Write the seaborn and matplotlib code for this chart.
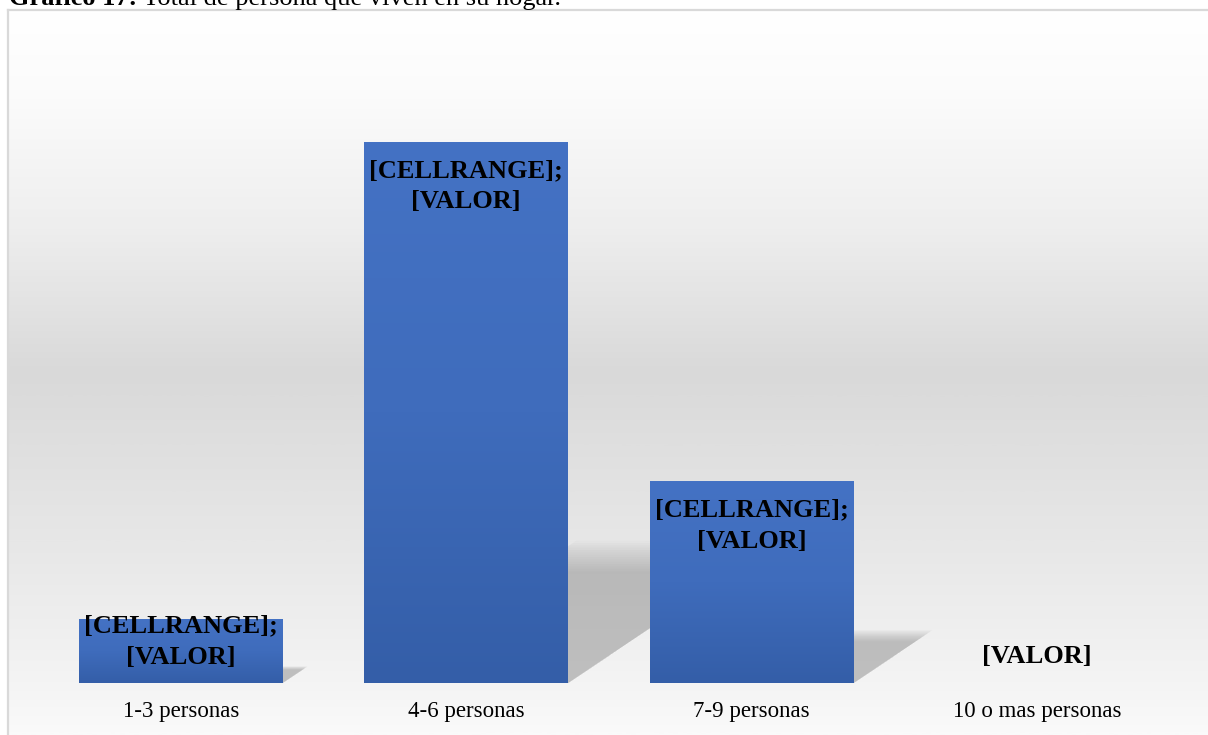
import numpy as np
import pandas as pd
import matplotlib
matplotlib.use("Agg")
import matplotlib.pyplot as plt
import seaborn as sns
from matplotlib.colors import LinearSegmentedColormap
from matplotlib.patches import Polygon

# ---- data ----
categories = ["1-3 personas", "4-6 personas", "7-9 personas", "10 o mas personas"]
values = [6, 51, 19, 0]
bar_labels = ["[CELLRANGE];\n[VALOR]", "[CELLRANGE];\n[VALOR]", "[CELLRANGE];\n[VALOR]", "[VALOR]"]
title_bold = "Gráfico 17:"
title_rest = " Total de persona que viven en su hogar."

sns.set_theme(style="white")
plt.rcParams["font.family"] = ["Liberation Serif", "DejaVu Serif"]

W, H = 1208, 735
fig = plt.figure(figsize=(W / 100, H / 100), dpi=100, facecolor="white")

# ---- chart area background (gradient) ----
bg = fig.add_axes([8 / W, 0, 1 - 8 / W, 1 - 10 / H], zorder=0)
stops = [(0.0, "#ffffff"), (0.12, "#fbfbfb"), (0.30, "#eeeeee"),
         (0.50, "#d9d9d9"), (0.75, "#e8e8e8"), (0.93, "#f4f4f4"), (1.0, "#fafafa")]
cmap_bg = LinearSegmentedColormap.from_list("bg", stops)
bg.imshow(np.linspace(0, 1, 400).reshape(-1, 1), aspect="auto", cmap=cmap_bg,
          extent=[0, 1, 0, 1], origin="upper")
bg.set_xlim(0, 1)
bg.set_ylim(0, 1)
bg.set_xticks([])
bg.set_yticks([])
for s in ["right", "bottom"]:
    bg.spines[s].set_visible(False)
for s in ["left", "top"]:
    bg.spines[s].set_color("#d9d9d9")
    bg.spines[s].set_linewidth(1.6)

# ---- main axes ----
ax = fig.add_axes([38 / W, 52 / H, (1180 - 38) / W, (683 - 30) / H], zorder=2)
ax.patch.set_alpha(0)
df = pd.DataFrame({"cat": categories, "val": values})
sns.barplot(data=df, x="cat", y="val", ax=ax, color="#4472c4", width=0.714,
            saturation=1, zorder=3, edgecolor="none", linewidth=0)
px_per_unit = 541 / 51
px_per_x = 285.5
ax.set_xlim(-0.5, 3.5)
ax.set_ylim(0, 653 / px_per_unit)
for s in ax.spines.values():
    s.set_visible(False)
ax.set_yticks([])
ax.set_xlabel("")
ax.set_ylabel("")
ax.tick_params(axis="x", length=0, pad=13, labelsize=16.5, labelcolor="black")

# bar gradients + soft cast shadows
cmap_bar = LinearSegmentedColormap.from_list("bar", ["#4472c4", "#3f6cbc", "#345ea8"])
for patch, v in zip(ax.patches, values):
    x0 = patch.get_x()
    w = patch.get_width()
    patch.set_edgecolor("none")
    patch.set_linewidth(0)
    if v > 0:
        im = ax.imshow(np.linspace(0, 1, 200).reshape(-1, 1), cmap=cmap_bar, aspect="auto",
                       extent=[x0, x0 + w, 0, v], origin="upper", zorder=3.5)
        im.set_clip_path(patch)
        hs = 0.235 * v
        sx = 0.35 * v * px_per_unit / px_per_x
        n = 14
        for k in range(n):
            f = 1.12 - 0.24 * k / (n - 1)   # from slightly larger to smaller
            poly = Polygon([(x0, 0), (x0 + w, 0),
                            (x0 + w + sx * f, hs * f),
                            (x0 + sx * f, hs * f)],
                           closed=True, facecolor="#8c8c8c", edgecolor="none",
                           alpha=0.045, zorder=2.5)
            ax.add_patch(poly)
ax.set_xlim(-0.5, 3.5)
ax.set_ylim(0, 653 / px_per_unit)

# data labels
for i, (v, lab) in enumerate(zip(values, bar_labels)):
    if "\n" in lab:
        yc = max(v - 44 / px_per_unit, 41.5 / px_per_unit)
    else:
        yc = 26 / px_per_unit
    ax.text(i, yc, lab, ha="center", va="center", fontsize=19, fontweight="bold",
            color="black", linespacing=1.45, zorder=5, multialignment="center")

# ---- title (partially cut at top, as in the reference) ----
y_base = 1 - 5 / H
t1 = fig.text(9 / W, y_base, title_bold, fontsize=19, fontweight="bold",
              va="baseline", ha="left", color="black")
fig.canvas.draw()
bb = t1.get_window_extent()
fig.text(bb.x1 / W, y_base, title_rest, fontsize=19, va="baseline", ha="left", color="black")

fig.savefig("out.png", dpi=100, facecolor="white")
